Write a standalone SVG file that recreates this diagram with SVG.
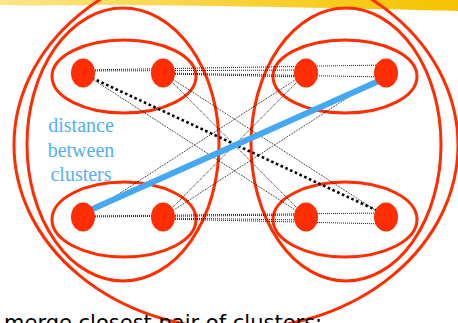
<svg xmlns="http://www.w3.org/2000/svg" width="458" height="323" viewBox="0 0 458 323">
<defs>
<linearGradient id="band" x1="0" y1="0" x2="1" y2="0">
<stop offset="0" stop-color="#fae58a"/>
<stop offset="0.5" stop-color="#f8d23a"/>
<stop offset="1" stop-color="#f6c300"/>
</linearGradient>
<style>
.cl{fill:none;stroke:#ff2d00;stroke-width:3}
.nd{fill:#ff2d00}
.thin{stroke:#000;stroke-width:0.9;stroke-dasharray:1 1;fill:none}
.thick{stroke:#000;stroke-width:2.6;stroke-dasharray:2.6 2.6;fill:none}
.blue{stroke:#45a8f2;stroke-width:6;fill:none}
.lbl{font-family:"Liberation Serif","Times New Roman",serif;font-size:20px;fill:#55aff2;text-anchor:middle}
.cap{font-family:"DejaVu Sans",Verdana,sans-serif;font-size:21px;fill:#000}
</style>
</defs>
<rect width="458" height="323" fill="#fff"/>
<path d="M0,0 H458 V11 C380,9 260,6 120,5 C70,5 30,6 0,5 Z" fill="url(#band)"/>
<g id="clusters">
<ellipse id="all" class="cl" cx="236" cy="145" rx="222" ry="184"/>
<ellipse id="left-cluster" class="cl" cx="123" cy="144.5" rx="96" ry="136.5"/>
<ellipse id="right-cluster" class="cl" cx="346" cy="144.5" rx="95" ry="136.5"/>
<ellipse id="top-left" class="cl" cx="124" cy="76.5" rx="72" ry="36.5"/>
<ellipse id="top-right" class="cl" cx="345" cy="76.5" rx="72" ry="36.5"/>
<ellipse id="bottom-left" class="cl" cx="124" cy="219.5" rx="72" ry="37.5"/>
<ellipse id="bottom-right" class="cl" cx="345" cy="219.5" rx="72" ry="37.5"/>
</g>
<g id="connectors">
<line class="thin" x1="83" y1="71" x2="306" y2="70"/>
<line class="thin" x1="83" y1="70" x2="386" y2="65"/>
<line class="thin" x1="163" y1="74" x2="306" y2="77"/>
<line class="thin" x1="163" y1="73" x2="386" y2="77"/>
<line class="thin" x1="83" y1="217" x2="306" y2="215"/>
<line class="thin" x1="83" y1="216" x2="386" y2="213"/>
<line class="thin" x1="163" y1="218" x2="306" y2="220"/>
<line class="thin" x1="163" y1="219" x2="386" y2="224"/>
<line class="thin" x1="83" y1="73" x2="306" y2="217"/>
<line class="thin" x1="163" y1="73" x2="306" y2="217"/>
<line class="thin" x1="163" y1="73" x2="386" y2="217"/>
<line class="thin" x1="83" y1="217" x2="306" y2="73"/>
<line class="thin" x1="163" y1="217" x2="306" y2="73"/>
<line class="thin" x1="163" y1="217" x2="386" y2="73"/>
<line id="complete-link" class="thick" x1="92" y1="78" x2="378" y2="211"/>
<line id="single-link" class="blue" x1="88" y1="211" x2="381" y2="80"/>
</g>
<g id="nodeA"><ellipse class="nd" cx="83" cy="73" rx="12" ry="14.5"/></g>
<g id="nodeB"><ellipse class="nd" cx="163" cy="73" rx="12" ry="14.5"/></g>
<g id="nodeC"><ellipse class="nd" cx="306" cy="73" rx="12" ry="14.5"/></g>
<g id="nodeD"><ellipse class="nd" cx="386" cy="73" rx="12" ry="14.5"/></g>
<g id="nodeE"><ellipse class="nd" cx="83" cy="217" rx="12" ry="14.5"/></g>
<g id="nodeF"><ellipse class="nd" cx="163" cy="217" rx="12" ry="14.5"/></g>
<g id="nodeG"><ellipse class="nd" cx="306" cy="217" rx="12" ry="14.5"/></g>
<g id="nodeH"><ellipse class="nd" cx="386" cy="217" rx="12" ry="14.5"/></g>
<g id="label">
<text class="lbl" x="81" y="132">distance</text>
<text class="lbl" x="81" y="157">between</text>
<text class="lbl" x="81" y="181">clusters</text>
</g>
<text class="cap" x="4" y="330">merge closest pair of clusters:</text>
</svg>
